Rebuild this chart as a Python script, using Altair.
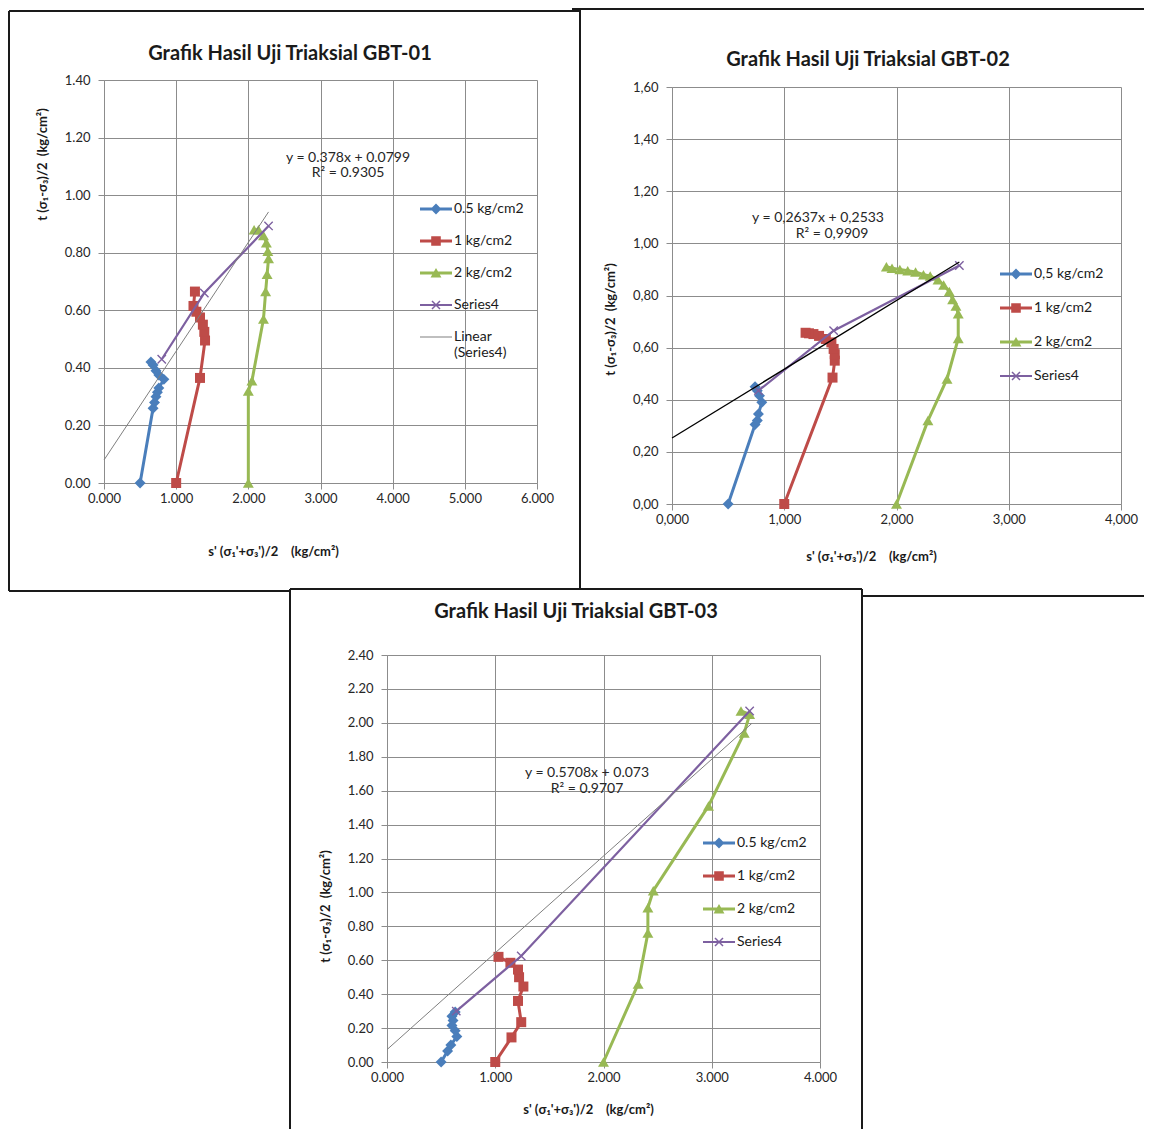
import altair as alt
import pandas as pd

FONT = "Lato"
C_BLUE, C_RED, C_GREEN, C_PURPLE = "#4A7EBB", "#BE4B48", "#98B954", "#7D60A0"
GRID = "#8C8C8C"
INK = "#1a1a1a"
NB = "\u00a0"

# ---------------- data: GBT-01 ----------------
g1_s05_x = [0.50, 0.68, 0.70, 0.72, 0.74, 0.76, 0.83, 0.76, 0.72, 0.68, 0.65]
g1_s05_y = [0.00, 0.26, 0.28, 0.30, 0.315, 0.33, 0.36, 0.375, 0.39, 0.41, 0.42]
g1_s1_x = [1.00, 1.33, 1.40, 1.39, 1.37, 1.33, 1.28, 1.24, 1.26]
g1_s1_y = [0.00, 0.365, 0.495, 0.525, 0.55, 0.575, 0.595, 0.615, 0.665]
g1_s2_x = [2.00, 2.00, 2.05, 2.21, 2.24, 2.26, 2.28, 2.27, 2.25, 2.21, 2.14, 2.08]
g1_s2_y = [0.00, 0.32, 0.355, 0.57, 0.665, 0.725, 0.78, 0.805, 0.835, 0.86, 0.88, 0.88]
g1_s4_x = [0.80, 1.39, 2.28]
g1_s4_y = [0.43, 0.66, 0.893]
g1_trend = [0.378, 0.0799]      # slope, intercept
g1_trend_x = [0.0, 2.28]

# ---------------- data: GBT-02 ----------------
g2_s05_x = [0.50, 0.74, 0.76, 0.77, 0.80, 0.78, 0.76, 0.74]
g2_s05_y = [0.00, 0.305, 0.32, 0.345, 0.39, 0.415, 0.435, 0.45]
g2_s1_x = [1.00, 1.43, 1.45, 1.45, 1.44, 1.42, 1.37, 1.31, 1.26, 1.22, 1.19]
g2_s1_y = [0.00, 0.485, 0.55, 0.575, 0.595, 0.62, 0.633, 0.645, 0.652, 0.655, 0.657]
g2_s2_x = [2.00, 2.28, 2.45, 2.55, 2.55, 2.53, 2.50, 2.47, 2.42, 2.37, 2.30, 2.24, 2.17, 2.10, 2.03, 1.96, 1.91]
g2_s2_y = [0.00, 0.32, 0.48, 0.635, 0.73, 0.76, 0.785, 0.815, 0.84, 0.86, 0.875, 0.88, 0.89, 0.895, 0.90, 0.905, 0.91]
g2_s4_x = [0.77, 1.44, 2.56]
g2_s4_y = [0.435, 0.665, 0.915]
g2_trend = [0.2637, 0.2533]
g2_trend_x = [0.0, 2.56]

# ---------------- data: GBT-03 ----------------
g3_s05_x = [0.50, 0.56, 0.59, 0.645, 0.63, 0.60, 0.61, 0.60, 0.63]
g3_s05_y = [0.00, 0.065, 0.10, 0.15, 0.185, 0.215, 0.245, 0.27, 0.295]
g3_s1_x = [1.00, 1.15, 1.24, 1.21, 1.26, 1.22, 1.21, 1.14, 1.03]
g3_s1_y = [0.00, 0.145, 0.235, 0.36, 0.445, 0.50, 0.545, 0.585, 0.62]
g3_s2_x = [2.00, 2.32, 2.41, 2.41, 2.46, 2.97, 3.30, 3.35, 3.27]
g3_s2_y = [0.00, 0.46, 0.76, 0.91, 1.01, 1.51, 1.94, 2.05, 2.07]
g3_s4_x = [0.64, 1.24, 3.35]
g3_s4_y = [0.30, 0.625, 2.07]
g3_trend = [0.5708, 0.073]
g3_trend_x = [0.0, 3.37]

NAMES_DOT = ["0.5 kg/cm2", "1 kg/cm2", "2 kg/cm2", "Series4"]
NAMES_COMMA = ["0,5 kg/cm2", "1 kg/cm2", "2 kg/cm2", "Series4"]
LINEAR_NAME = "Linear (Series4)"

Y_TITLE = "t (σ₁-σ₃)/2" + NB * 2 + "(kg/cm²)"
X_TITLE = "s' (σ₁'+σ₃')/2" + NB * 4 + "(kg/cm²)"

# marker / legend symbol paths
X_MARK = "M-1,-1L1,1M-1,1L1,-1"
LEG_LINE = "M-1,-0.09H1V0.09H-1Z"
LEG_DIAMOND = LEG_LINE + "M0,-0.34L0.34,0L0,0.34L-0.34,0Z"
LEG_SQUARE = LEG_LINE + "M-0.3,-0.3H0.3V0.3H-0.3Z"
LEG_TRIANGLE = LEG_LINE + "M0,-0.32L0.34,0.28H-0.34Z"
LEG_X = ("M-1,-0.07H1V0.07H-1Z"
         "M-0.217,-0.283L0.283,0.217L0.217,0.283L-0.283,-0.217Z"
         "M-0.217,0.283L-0.283,0.217L0.217,-0.283L0.283,-0.217Z")
LEG_TREND = "M-1,-0.035H1V0.035H-1Z"


def make_panel(cfg):
    xfmt = {}
    yfmt = {}
    if cfg["comma"]:
        xfmt["labelExpr"] = "replace(format(datum.value, '.3f'), '.', ',')"
        yfmt["labelExpr"] = "replace(format(datum.value, '.2f'), '.', ',')"
    else:
        xfmt["format"] = ".3f"
        yfmt["format"] = ".2f"
    X = alt.X("x:Q", scale=alt.Scale(domain=cfg["xdom"], nice=False, zero=False),
              axis=alt.Axis(values=cfg["xticks"], title=X_TITLE, titleX=cfg["xt"][0], titleY=cfg["xt"][1],
                            titleAlign="center", titleBaseline="middle", titleAngle=0,
                            labelFlush=False, labelOverlap=False, labelPadding=3, **xfmt))
    Y = alt.Y("y:Q", scale=alt.Scale(domain=cfg["ydom"], nice=False, zero=False),
              axis=alt.Axis(values=cfg["yticks"], title=Y_TITLE, titleX=cfg["yt"][0], titleY=cfg["yt"][1],
                            titleAlign="center", titleBaseline="middle", titleAngle=270,
                            labelFlush=False, labelOverlap=False, labelPadding=8, **yfmt))
    one = pd.DataFrame({"a": [0]})
    layers = []
    # frame decoration (edges of the pasted screenshot boxes)
    for fr in cfg["frame"]:
        kind = fr[0]
        if kind == "h":
            _, x1, x2, yv = fr
            layers.append(alt.Chart(one).mark_rule(color=INK, strokeWidth=2).encode(
                x=alt.value(x1), x2=alt.value(x2), y=alt.value(yv)))
        else:
            _, xv, y1, y2 = fr
            layers.append(alt.Chart(one).mark_rule(color=INK, strokeWidth=2).encode(
                x=alt.value(xv), y=alt.value(y1), y2=alt.value(y2)))
    # chart title (inside the frame)
    layers.append(alt.Chart(one).mark_text(font=FONT, fontSize=20, fontWeight="bold", color=INK,
                                           align="center", baseline="middle")
                  .encode(x=alt.value(cfg["tpos"][0]), y=alt.value(cfg["tpos"][1]), text=alt.value(cfg["title"])))

    styles = [(C_BLUE, "diamond", 120, 3), (C_RED, "square", 100, 3),
              (C_GREEN, "triangle-up", 120, 3), (C_PURPLE, "x", 70, 2.2)]
    for (xs, ys), (col, shp, sz, sw) in zip(cfg["series"], styles):
        df = pd.DataFrame({"x": xs, "y": ys, "i": list(range(len(xs)))})
        base = alt.Chart(df)
        layers.append(base.mark_line(color=col, strokeWidth=sw).encode(x=X, y=Y, order="i:Q"))
        if shp == "x":
            layers.append(base.mark_point(shape=X_MARK, color=col, strokeWidth=1.4, size=sz, opacity=1)
                          .encode(x=X, y=Y))
        else:
            layers.append(base.mark_point(shape=shp, filled=True, color=col, size=sz, opacity=1)
                          .encode(x=X, y=Y))
    # trendline
    slope, icpt = cfg["trend"]
    tdf = pd.DataFrame({"x": cfg["trend_x"]})
    tdf["y"] = slope * tdf["x"] + icpt
    layers.append(alt.Chart(tdf).mark_line(color=cfg["trend_color"], strokeWidth=cfg["trend_w"])
                  .encode(x=X, y=Y))
    # equation text
    for (tx, ty, txt) in cfg["eq"]:
        layers.append(alt.Chart(one).mark_text(font=FONT, fontSize=14, color="#262626", align="center",
                                               baseline="middle")
                      .encode(x=alt.value(tx), y=alt.value(ty), text=alt.value(txt)))
    # legend (empty layer carrying only the legend)
    names = cfg["names"]
    cols = [C_BLUE, C_RED, C_GREEN, C_PURPLE]
    paths = [LEG_DIAMOND, LEG_SQUARE, LEG_TRIANGLE, LEG_X]
    if cfg["linear_legend"]:
        names = names + [LINEAR_NAME]
        cols = cols + ["#8C8C8C"]
        paths = paths + [LEG_TREND]
    allx = [v for s in cfg["series"] for v in s[0]]
    ally = [v for s in cfg["series"] for v in s[1]]
    ldf = pd.DataFrame({"x": allx, "y": ally, "series": names[0]})
    leg = alt.Legend(orient="none", legendX=cfg["leg"][0], legendY=cfg["leg"][1], title=None,
                     symbolSize=1024, symbolStrokeWidth=0, labelFont=FONT, labelFontSize=14,
                     labelColor=INK, labelOffset=2, rowPadding=cfg["leg"][2], padding=0,
                     labelExpr="datum.label == '%s' ? ['Linear', '(Series4)'] : datum.label" % LINEAR_NAME)
    layers.append(alt.Chart(ldf).transform_filter("false").mark_point(filled=True, opacity=1).encode(
        x=X, y=Y,
        color=alt.Color("series:N", scale=alt.Scale(domain=names, range=cols), legend=leg),
        shape=alt.Shape("series:N", scale=alt.Scale(domain=names, range=paths), legend=leg)))

    return alt.layer(*layers).properties(width=cfg["w"], height=cfg["h"])


p1 = make_panel(dict(
    series=[(g1_s05_x, g1_s05_y), (g1_s1_x, g1_s1_y), (g1_s2_x, g1_s2_y), (g1_s4_x, g1_s4_y)],
    trend=g1_trend, trend_x=g1_trend_x, trend_color="#7f7f7f", trend_w=1,
    xdom=[0, 6], ydom=[0, 1.4], xticks=[0, 1, 2, 3, 4, 5, 6],
    yticks=[0, 0.2, 0.4, 0.6, 0.8, 1.0, 1.2, 1.4], comma=False,
    xt=(169, 68), yt=(-62, 84), w=433, h=403,
    eq=[(244, 78, "y = 0.378x + 0.0799"), (244, 93, "R² = 0.9305")],
    names=NAMES_DOT, linear_legend=True, leg=(316, 113, 9),
    title="Grafik Hasil Uji Triaksial GBT-01", tpos=(186, -26),
    frame=[("v", -95, -69, 511), ("h", -95, 476, -69), ("v", 476, -69, 509), ("h", -95, 186, 511)]))

p2 = make_panel(dict(
    series=[(g2_s05_x, g2_s05_y), (g2_s1_x, g2_s1_y), (g2_s2_x, g2_s2_y), (g2_s4_x, g2_s4_y)],
    trend=g2_trend, trend_x=g2_trend_x, trend_color="#000000", trend_w=1.3,
    xdom=[0, 4], ydom=[0, 1.6], xticks=[0, 1, 2, 3, 4],
    yticks=[0, 0.2, 0.4, 0.6, 0.8, 1.0, 1.2, 1.4, 1.6], comma=True,
    xt=(199, 52), yt=(-62, 232), w=449, h=417,
    eq=[(146, 131, "y = 0,2637x + 0,2533"), (160, 147, "R² = 0,9909")],
    names=NAMES_COMMA, linear_legend=False, leg=(328, 171, 11),
    title="Grafik Hasil Uji Triaksial GBT-02", tpos=(196, -27),
    frame=[("v", -92, -78, 502), ("h", -100, 472, -78), ("h", 190, 472, 509)]))

p3 = make_panel(dict(
    series=[(g3_s05_x, g3_s05_y), (g3_s1_x, g3_s1_y), (g3_s2_x, g3_s2_y), (g3_s4_x, g3_s4_y)],
    trend=g3_trend, trend_x=g3_trend_x, trend_color="#7f7f7f", trend_w=1,
    xdom=[0, 4], ydom=[0, 2.4], xticks=[0, 1, 2, 3, 4],
    yticks=[round(0.2 * k, 1) for k in range(13)], comma=False,
    xt=(201, 47), yt=(-62, 251), w=433, h=407,
    eq=[(200, 118, "y = 0.5708x + 0.073"), (200, 134, "R² = 0.9707")],
    names=NAMES_DOT, linear_legend=False, leg=(316, 172, 10),
    title="Grafik Hasil Uji Triaksial GBT-03", tpos=(189, -43),
    frame=[("v", -97, -66, 474), ("h", -97, 475, -66), ("v", 475, -66, 474)]))

spacer_df = pd.DataFrame({"a": [0]})
spacer_top = alt.Chart(spacer_df).mark_point(opacity=0).encode(
    x=alt.value(0), y=alt.value(0)).properties(width=449, height=1)
spacer_left = alt.Chart(spacer_df).mark_point(opacity=0).encode(
    x=alt.value(0), y=alt.value(0)).properties(width=1, height=407)

right_col = alt.VConcatChart(vconcat=[spacer_top, p2], spacing=6, bounds="flush").resolve_scale(
    color="independent", shape="independent").resolve_legend(color="independent", shape="independent")
bottom_row = alt.HConcatChart(hconcat=[spacer_left, p3], spacing=282, bounds="flush").resolve_scale(
    color="independent", shape="independent").resolve_legend(color="independent", shape="independent")

chart = alt.ConcatChart(concat=[p1, right_col, bottom_row], columns=2, bounds="flush",
                        spacing={"row": 172, "column": 135}).resolve_scale(
    color="independent", shape="independent").resolve_legend(
    color="independent", shape="independent").properties(
    padding=0, background="white"
).configure_view(strokeWidth=0).configure_axis(
    labelFont=FONT, labelFontSize=13, labelColor="#262626",
    titleFont=FONT, titleFontSize=13, titleFontWeight="bold", titleColor=INK,
    gridColor=GRID, gridWidth=1, gridOpacity=1, domainColor=GRID, domainWidth=1,
    tickColor=GRID, tickSize=6, tickWidth=1
)

chart.save("out.html", embed_options={"renderer": "svg", "actions": False})
